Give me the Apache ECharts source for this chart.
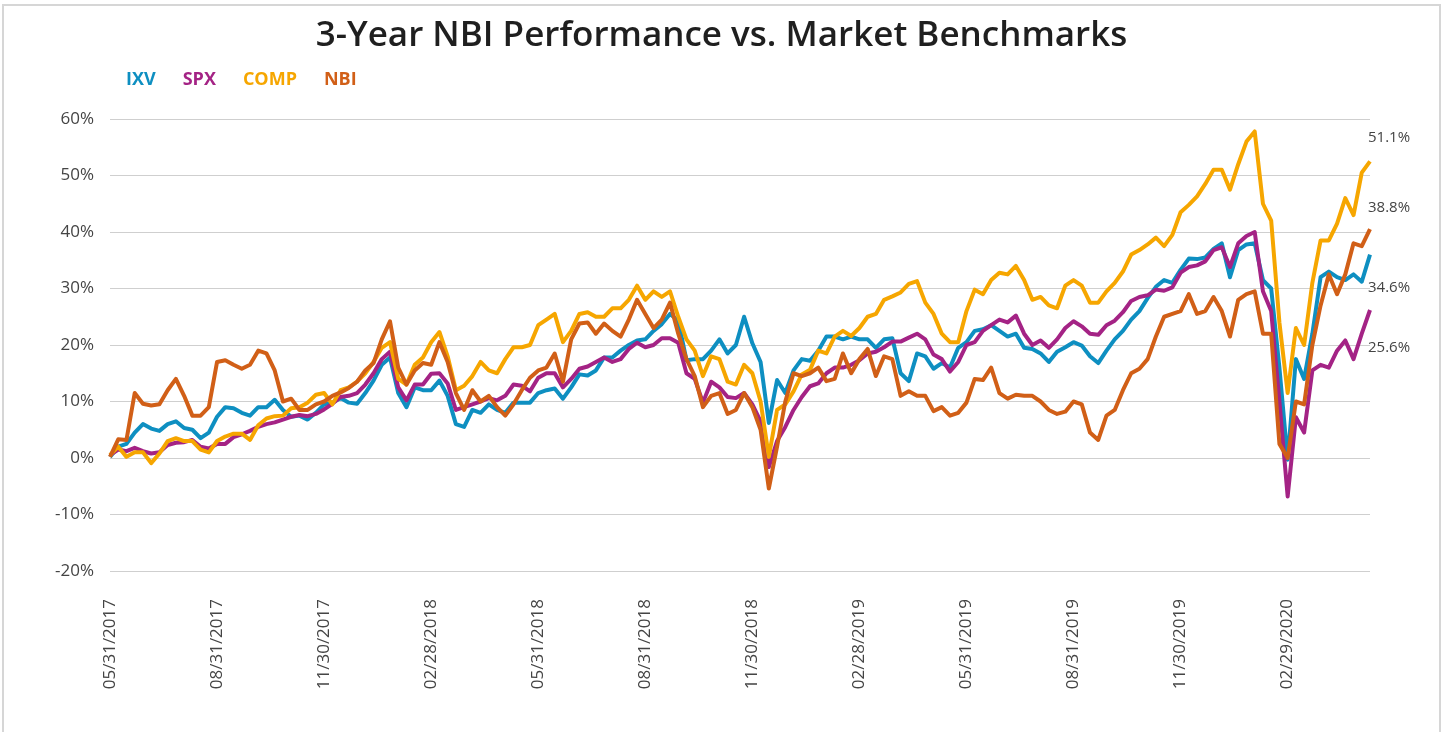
<!DOCTYPE html>
<html>
<head>
<meta charset="utf-8">
<script src="https://cdn.jsdelivr.net/npm/echarts@6/dist/echarts.min.js"></script>
<style>
  html, body { margin: 0; padding: 0; background: #fff; }
  #chart { width: 1443px; height: 732px; }
</style>
</head>
<body>
<div id="chart"></div>
<script>
// quarter-end labels shown on the x axis (one every 13 weeks)
const quarterLabels = [
  '05/31/2017', '08/31/2017', '11/30/2017', '02/28/2018',
  '05/31/2018', '08/31/2018', '11/30/2018', '02/28/2019',
  '05/31/2019', '08/31/2019', '11/30/2019', '02/29/2020',
]

// weekly cumulative returns (%)
const ixv = [
  0.2, 2.0, 2.5, 4.5, 6.0, 5.2, 4.8, 6.0, 6.5, 5.3, 5.0, 3.5, 4.5, 7.3, 9.0, 8.8, 8.0, 7.5, 9.0, 9.0, 10.3, 8.5, 7.3, 7.5, 6.8, 8.0, 9.5,
  9.8, 10.6, 9.8, 9.6, 11.5, 13.7, 16.5, 17.8, 11.5, 9.0, 12.5, 12.0, 12.0, 13.7, 11.0, 6.0, 5.5, 8.5, 8.0, 9.5, 8.5, 8.0, 9.8, 9.8, 9.8, 11.5, 12.0,
  12.3, 10.5, 12.5, 14.8, 14.6, 15.5, 17.8, 17.8, 19.0, 20.0, 20.8, 21.0, 22.5, 23.7, 25.5, 24.3, 17.3, 17.5, 17.5, 19.0, 21.0, 18.5, 20.0, 25.0, 20.3, 17.0, 6.2,
  13.8, 11.5, 15.5, 17.5, 17.2, 19.0, 21.5, 21.5, 21.0, 21.5, 21.0, 21.0, 19.5, 21.0, 21.2, 15.0, 13.6, 18.5, 18.0, 15.8, 16.8, 16.0, 19.5, 20.5, 22.5, 22.8, 23.5,
  22.5, 21.5, 22.0, 19.5, 19.3, 18.5, 17.0, 18.8, 19.6, 20.5, 19.9, 18.0, 16.8, 19.0, 21.0, 22.5, 24.5, 26.0, 28.3, 30.3, 31.5, 31.0, 33.3, 35.3, 35.2, 35.5,
  37.0, 38.0, 32.0, 36.8, 37.8, 38.0, 31.5, 30.0, 16.0, -0.3, 17.5, 14.0, 22.0, 32.0, 33.0, 32.0, 31.5, 32.5, 31.2, 36.0,
]
const spx = [
  0.5, 1.5, 1.2, 1.8, 1.2, 0.8, 1.0, 2.3, 2.7, 2.8, 3.2, 2.0, 1.7, 2.5, 2.5, 3.7, 4.2, 4.8, 5.5, 6.0, 6.3, 6.8, 7.3, 7.6, 7.4, 7.8, 8.6,
  9.6, 10.8, 11.0, 11.5, 13.0, 15.0, 17.5, 18.8, 12.5, 10.2, 13.0, 13.0, 14.9, 15.0, 13.2, 8.5, 9.0, 9.5, 10.0, 10.6, 10.2, 11.0, 13.0, 12.8, 11.8, 14.2, 15.0,
  15.0, 12.5, 14.0, 15.8, 16.2, 17.0, 17.8, 17.0, 17.5, 19.3, 20.4, 19.6, 20.0, 21.2, 21.2, 20.4, 15.0, 14.0, 9.8, 13.5, 12.5, 10.8, 10.6, 11.5, 9.5, 6.5, -1.6,
  3.0, 5.5, 8.5, 10.8, 12.7, 13.2, 15.0, 16.0, 16.0, 16.5, 17.3, 18.5, 18.8, 19.6, 20.6, 20.6, 21.3, 22.0, 21.0, 18.3, 17.5, 15.3, 17.0, 20.0, 20.5, 22.5, 23.5,
  24.5, 24.0, 25.2, 22.0, 20.0, 20.8, 19.5, 21.0, 23.0, 24.2, 23.3, 22.0, 21.8, 23.5, 24.3, 25.8, 27.8, 28.5, 28.8, 29.8, 29.6, 30.2, 32.8, 33.8, 34.1, 34.8,
  36.8, 37.3, 33.8, 38.0, 39.3, 40.0, 29.5, 26.0, 10.0, -6.8, 7.2, 4.5, 15.5, 16.5, 16.0, 19.0, 20.8, 17.5, 22.0, 26.2,
]
const comp = [
  0.5, 2.0, 0.2, 1.0, 1.0, -0.9, 0.8, 3.0, 3.5, 3.0, 3.0, 1.5, 1.0, 3.0, 3.8, 4.3, 4.3, 3.2, 5.8, 7.0, 7.4, 7.5, 8.8, 9.0, 9.8, 11.2, 11.5,
  9.5, 12.0, 12.5, 13.5, 15.0, 17.0, 19.5, 20.5, 14.0, 13.0, 16.5, 17.8, 20.5, 22.3, 18.0, 12.0, 12.8, 14.5, 17.0, 15.5, 15.0, 17.5, 19.6, 19.6, 20.0, 23.5, 24.5,
  25.5, 20.5, 22.5, 25.5, 25.8, 25.0, 25.0, 26.5, 26.5, 28.0, 30.5, 28.0, 29.5, 28.5, 29.5, 25.0, 21.0, 19.0, 14.5, 18.0, 17.5, 13.5, 13.0, 16.5, 15.0, 10.0, 0.2,
  8.5, 9.5, 11.8, 14.8, 15.6, 19.0, 18.5, 21.5, 22.5, 21.6, 23.0, 25.0, 25.5, 28.0, 28.6, 29.3, 30.8, 31.3, 27.5, 25.5, 22.0, 20.5, 20.5, 26.0, 29.8, 29.0, 31.5,
  32.8, 32.5, 34.0, 31.5, 28.0, 28.5, 27.0, 26.5, 30.5, 31.5, 30.5, 27.5, 27.5, 29.5, 31.0, 33.0, 36.0, 36.8, 37.8, 39.0, 37.5, 39.5, 43.5, 44.8, 46.3, 48.5,
  51.0, 51.0, 47.5, 52.0, 56.0, 57.8, 45.0, 42.0, 24.0, 11.5, 23.0, 20.0, 31.0, 38.5, 38.5, 41.5, 46.0, 43.0, 50.5, 52.5,
]
const nbi = [
  0.2, 3.3, 3.2, 11.5, 9.6, 9.3, 9.5, 12.0, 14.0, 11.0, 7.5, 7.5, 9.0, 17.0, 17.3, 16.5, 15.8, 16.5, 19.0, 18.5, 15.5, 10.0, 10.5, 8.5, 8.5, 9.5, 10.0,
  11.0, 11.6, 12.4, 13.5, 15.5, 16.8, 21.0, 24.2, 16.0, 13.0, 15.5, 16.8, 16.5, 20.5, 17.0, 11.5, 8.5, 12.0, 10.0, 11.0, 9.0, 7.5, 9.5, 12.0, 14.2, 15.5, 16.0,
  18.5, 13.5, 21.0, 23.8, 24.0, 22.0, 23.8, 22.5, 21.5, 24.5, 28.0, 25.5, 23.0, 24.5, 27.5, 22.0, 17.5, 14.5, 9.0, 11.0, 11.5, 7.8, 8.5, 11.5, 9.0, 5.0, -5.4,
  2.0, 10.0, 15.0, 14.5, 15.0, 16.0, 13.6, 14.0, 18.5, 15.0, 17.5, 19.3, 14.5, 18.0, 17.5, 11.0, 11.8, 11.0, 11.0, 8.3, 9.0, 7.5, 8.0, 9.8, 14.0, 13.8, 16.0,
  11.5, 10.5, 11.2, 11.0, 11.0, 10.0, 8.5, 7.8, 8.2, 10.0, 9.5, 4.5, 3.2, 7.5, 8.5, 12.0, 15.0, 15.8, 17.5, 21.5, 25.0, 25.5, 26.0, 29.0, 25.5, 26.0,
  28.5, 26.0, 21.5, 28.0, 29.0, 29.5, 22.0, 22.0, 2.5, 0.0, 10.0, 9.5, 20.0, 27.0, 32.5, 29.0, 32.5, 38.0, 37.5, 40.5,
]

// labels printed to the right of the plot
const endLabels = ['51.1%', '38.8%', '34.6%', '25.6%']

// one category per week starting 05/31/2017
const weeks = []
const start = new Date(2017, 4, 31)
for (let i = 0; i < ixv.length; i++) {
  const d = new Date(start.getTime() + i * 7 * 86400000)
  const mm = String(d.getMonth() + 1).padStart(2, '0')
  const dd = String(d.getDate()).padStart(2, '0')
  weeks.push(mm + '/' + dd + '/' + d.getFullYear())
}

const colors = ['#0E8FC1', '#A42385', '#F6A600', '#D15F17']
const names = ['IXV', 'SPX', 'COMP', 'NBI']
const values = [ixv, spx, comp, nbi]
const labelFont = '"Open Sans", "Noto Sans", sans-serif'

const endLabelY = [139, 209, 289, 349]

echarts.init(document.getElementById('chart')).setOption({
  animation: false,
  title: {
    text: '3-Year NBI Performance vs. Market Benchmarks',
    left: 'center',
    top: 14,
    textStyle: {
      fontFamily: labelFont,
      fontSize: 35,
      fontWeight: 600,
      color: '#1f1f1f',
    },
  },
  legend: {
    data: names.map((n, i) => ({ name: n, textStyle: { color: colors[i] } })),
    icon: 'none',
    itemWidth: 0,
    itemGap: 22,
    left: 116,
    top: 66,
    textStyle: {
      fontFamily: labelFont,
      fontSize: 18,
      fontWeight: 'bold',
    },
  },
  grid: {
    left: 110,
    right: 73,
    top: 119,
    bottom: 161,
  },
  xAxis: {
    type: 'category',
    data: weeks,
    boundaryGap: false,
    axisLine: { show: false },
    axisTick: { show: false },
    axisLabel: {
      rotate: 90,
      margin: 28,
      interval: (index) => index % 13 === 0,
      formatter: (value, index) => quarterLabels[index / 13] || '',
      fontFamily: labelFont,
      fontSize: 17,
      color: '#444',
    },
    splitLine: { show: false },
  },
  yAxis: {
    type: 'value',
    min: -20,
    max: 60,
    interval: 10,
    axisLine: { show: false },
    axisTick: { show: false },
    axisLabel: {
      formatter: '{value}%',
      margin: 16,
      fontFamily: labelFont,
      fontSize: 17,
      color: '#444',
    },
    splitLine: { lineStyle: { color: '#cfcfcf', width: 1.2 } },
  },
  series: names.map((n, i) => ({
    name: n,
    type: 'line',
    data: values[i],
    symbol: 'none',
    color: colors[i],
    lineStyle: { width: 4, color: colors[i], join: 'round' },
  })),
  graphic: [
    {
      type: 'rect',
      shape: { x: 3, y: 5, width: 1437, height: 740 },
      style: { fill: 'none', stroke: '#d6d6d6', lineWidth: 2 },
      silent: true,
    },
    ...endLabels.map((t, i) => ({
      type: 'text',
      left: 1368,
      top: endLabelY[i] - 9,
      style: {
        text: t,
        fill: '#444',
        font: '15px ' + labelFont,
      },
    })),
  ],
})
</script>
</body>
</html>
